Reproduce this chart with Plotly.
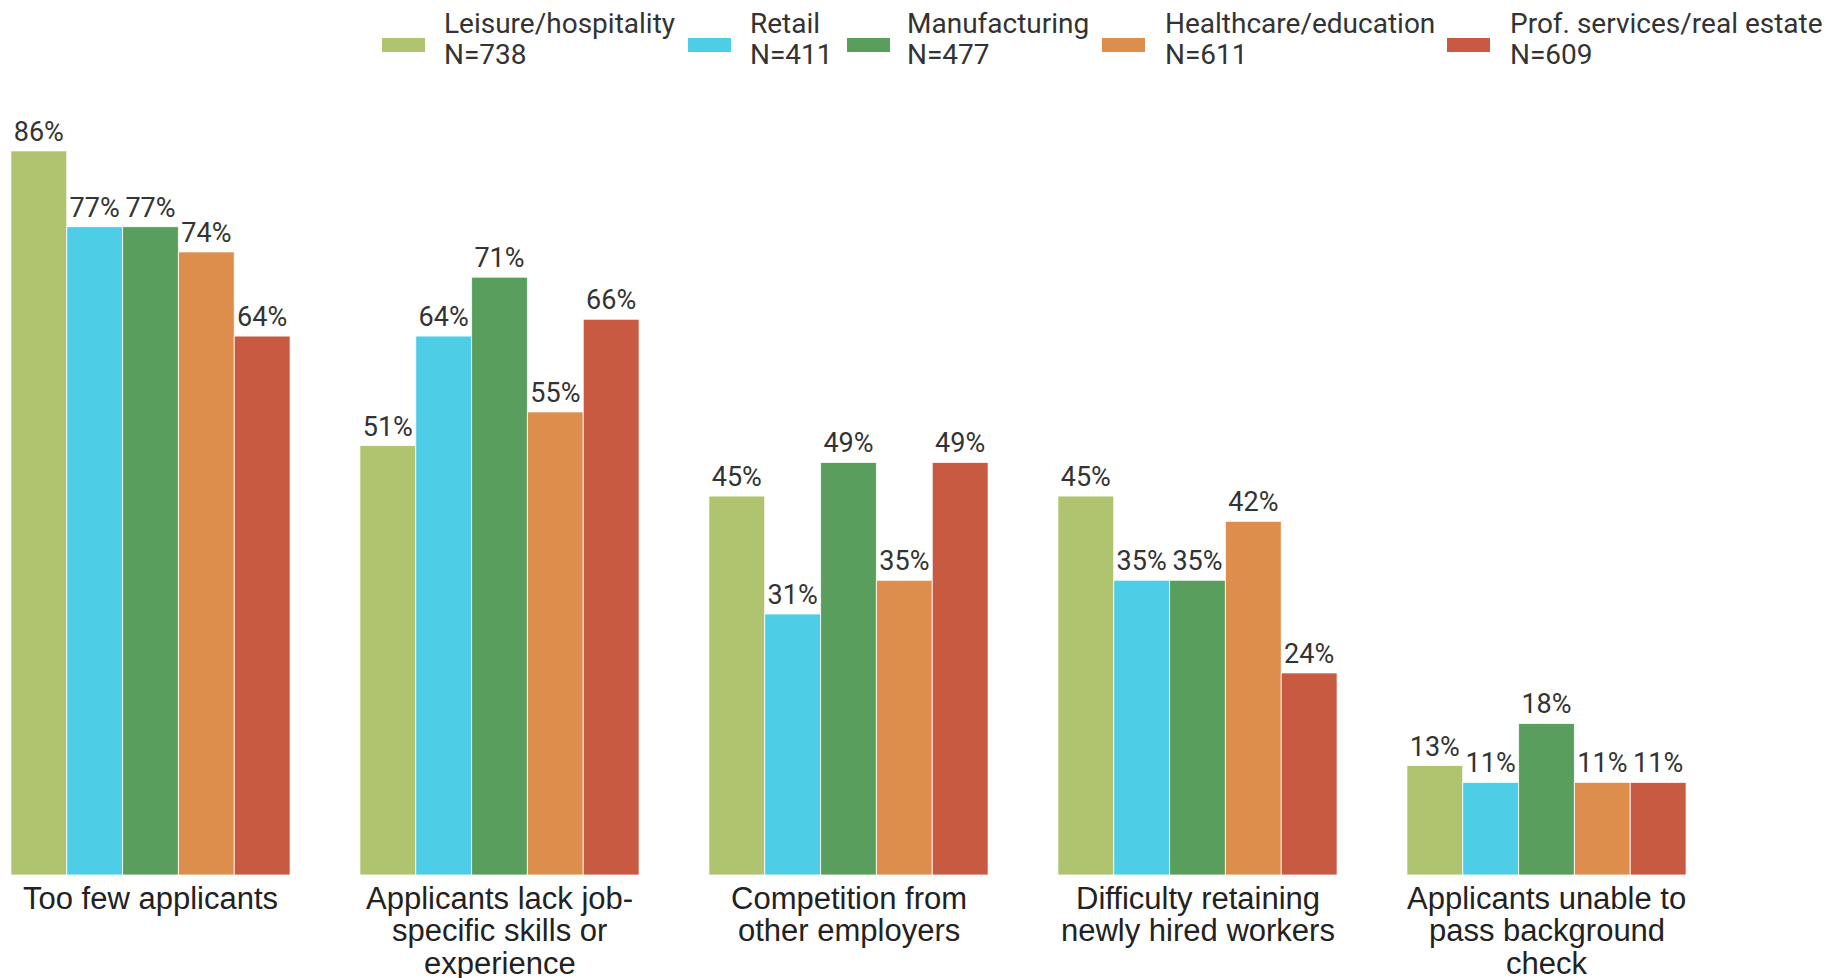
import plotly.graph_objects as go

categories = [
    "Too few applicants",
    "Applicants lack job-<br>specific skills or<br>experience",
    "Competition from<br>other employers",
    "Difficulty retaining<br>newly hired workers",
    "Applicants unable to<br>pass background<br>check",
]
series_names = ["Leisure/hospitality", "Retail", "Manufacturing", "Healthcare/education", "Prof. services/real estate"]
series_n = ["N=738", "N=411", "N=477", "N=611", "N=609"]
leisure = [86, 51, 45, 45, 13]
retail = [77, 64, 31, 35, 11]
manufacturing = [77, 71, 49, 35, 18]
healthcare = [74, 55, 35, 42, 11]
prof = [64, 66, 49, 24, 11]
series_values = [leisure, retail, manufacturing, healthcare, prof]
colors = ["#B0C36E", "#4DCDE6", "#5A9E5E", "#DD8E4C", "#C75A40"]

W, H = 1826, 978
top, bottom = 100, 103
plot_h = H - top - bottom
base_px = H - bottom


def py(p):
    """pixel row -> paper y"""
    return (base_px - p) / plot_h


fig = go.Figure()
for name, vals, col in zip(series_names, series_values, colors):
    fig.add_trace(go.Bar(
        x=list(range(len(categories))), y=vals, name=name,
        marker=dict(color=col, line=dict(color="rgba(255,255,255,0.8)", width=1)),
        text=[f"{v}%" for v in vals], textposition="outside", cliponaxis=False,
        textfont=dict(family="Roboto", size=27, color="#333333"),
        showlegend=False,
    ))

# manual legend (swatch + two-line label)
swatch_x = [382, 688, 847, 1102, 1447]
text_x = [442, 748, 905, 1163, 1508]
for sx, tx, name, n, col in zip(swatch_x, text_x, series_names, series_n, colors):
    fig.add_shape(type="rect", xref="paper", yref="paper",
                  x0=sx / W, x1=(sx + 43) / W, y0=py(52), y1=py(38),
                  fillcolor=col, line=dict(width=0))
    for line, cy in ((name, 24), (n, 55)):
        fig.add_annotation(xref="paper", yref="paper", x=tx / W, y=py(cy),
                           xanchor="left", yanchor="middle", align="left", showarrow=False,
                           text=line, font=dict(family="Roboto", size=28, color="#333333"))

# category labels, one line per annotation for tight line spacing
for i, cat in enumerate(categories):
    for j, line in enumerate(cat.split("<br>")):
        fig.add_annotation(xref="x", yref="paper", x=i, y=py(898 + 32.6 * j),
                           xanchor="center", yanchor="middle", showarrow=False,
                           text=line, font=dict(family="Liberation Sans", size=31, color="#222222"))

r0 = -150.5 / 349
fig.update_layout(
    width=W, height=H,
    margin=dict(l=0, r=0, t=top, b=bottom),
    barmode="group", bargap=0.2, bargroupgap=0,
    plot_bgcolor="white", paper_bgcolor="white",
    xaxis=dict(range=[r0, r0 + W / 349], tickvals=list(range(len(categories))),
               showticklabels=False, showgrid=False, zeroline=False, showline=False, ticks=""),
    yaxis=dict(range=[0, plot_h / 8.42], visible=False, showgrid=False),
)
fig.write_html("out.html", config={"displayModeBar": False},
               post_script="document.body.style.margin='0px';")
